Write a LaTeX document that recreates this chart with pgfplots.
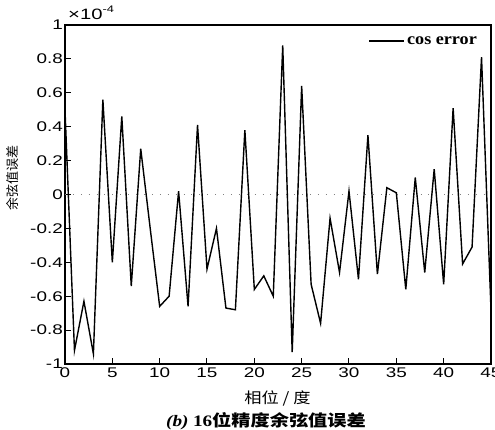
\documentclass[border=0pt]{standalone}
\usepackage{fontspec}
\setmainfont{Liberation Sans}
\newfontfamily\tickfont{Liberation Sans}[FakeStretch=1.35]
\newfontfamily\legfont{Liberation Serif}[FakeStretch=1.1]
\newfontfamily\cjk{Noto Sans CJK SC}
\newfontfamily\cjkx{Noto Sans CJK SC}[FakeStretch=1.15]
\newfontfamily\capcjk{Noto Sans CJK SC}[FakeStretch=1.2]
\newfontfamily\capser{Liberation Serif}[FakeStretch=1.2]
\usepackage{pgfplots}
\pgfplotsset{compat=1.18}
\pgfplotstableread{
x y
0 0.50
1 -0.92
2 -0.63
3 -0.94
4 0.56
5 -0.40
6 0.46
7 -0.54
8 0.27
9 -0.20
10 -0.66
11 -0.60
12 0.02
13 -0.66
14 0.41
15 -0.44
16 -0.20
17 -0.67
18 -0.68
19 0.38
20 -0.56
21 -0.48
22 -0.60
23 0.88
24 -0.93
25 0.64
26 -0.53
27 -0.76
28 -0.14
29 -0.46
30 0.02
31 -0.50
32 0.35
33 -0.47
34 0.04
35 0.01
36 -0.56
37 0.10
38 -0.46
39 0.15
40 -0.53
41 0.51
42 -0.41
43 -0.31
44 0.81
45 -0.68
}\cosdata
\begin{document}
\begin{tikzpicture}
\useasboundingbox (-65pt,-66pt) rectangle (430pt,364pt);
\begin{axis}[
  scale only axis, width=426pt, height=339pt,
  xmin=0, xmax=45, ymin=-1, ymax=1,
  xtick={0,5,10,15,20,25,30,35,40,45},
  xticklabels={0,5,10,15,20,25,30,35,40,45},
  ytick={-1,-0.8,-0.6,-0.4,-0.2,0,0.2,0.4,0.6,0.8,1},
  yticklabels={-1,-0.8,-0.6,-0.4,-0.2,0,0.2,0.4,0.6,0.8,1},
  tick pos=left, tick align=inside,
  major tick length=6pt,
  tick style={black, line width=1pt},
  axis line style={line width=1.2pt},
  ticklabel style={font=\tickfont\fontsize{14}{16}\selectfont},
  xticklabel style={inner sep=4pt},
  yticklabel style={inner sep=2pt},
  legend style={draw=none, fill=none, at={(0.972,0.953)}, anchor=east,
    font=\legfont\bfseries\fontsize{16.5}{18}\selectfont, inner sep=0pt},
  legend image code/.code={\draw[#1] (0pt,0pt) -- (35pt,0pt);},
]
\addplot[gray, line width=0.9pt, dash pattern=on 0.9pt off 7pt, forget plot] coordinates {(0,0) (45,0)};
\addplot[black, line width=1.4pt] table[x=x, y=y] {\cosdata};
\addlegendentry{cos error}
\end{axis}
\node[anchor=base west, inner sep=0pt, font=\tickfont\fontsize{15}{16}\selectfont] at (3pt,344pt) {×10\raisebox{0.5em}{\fontsize{9.5}{10}\selectfont -4}};
\node[rotate=90, font=\cjk\fontsize{13}{14}\selectfont] at (-52pt,186pt) {余弦值误差};
\node[font=\cjkx\fontsize{15}{16}\selectfont] at (212.5pt,-34pt) {相位 / 度};
\node[font=\fontsize{16}{17}\selectfont] at (201pt,-57pt) {{\capser\bfseries\itshape (b)} {\capser\bfseries 16}{\capcjk\bfseries 位精度余弦值误差}};
\end{tikzpicture}
\end{document}
